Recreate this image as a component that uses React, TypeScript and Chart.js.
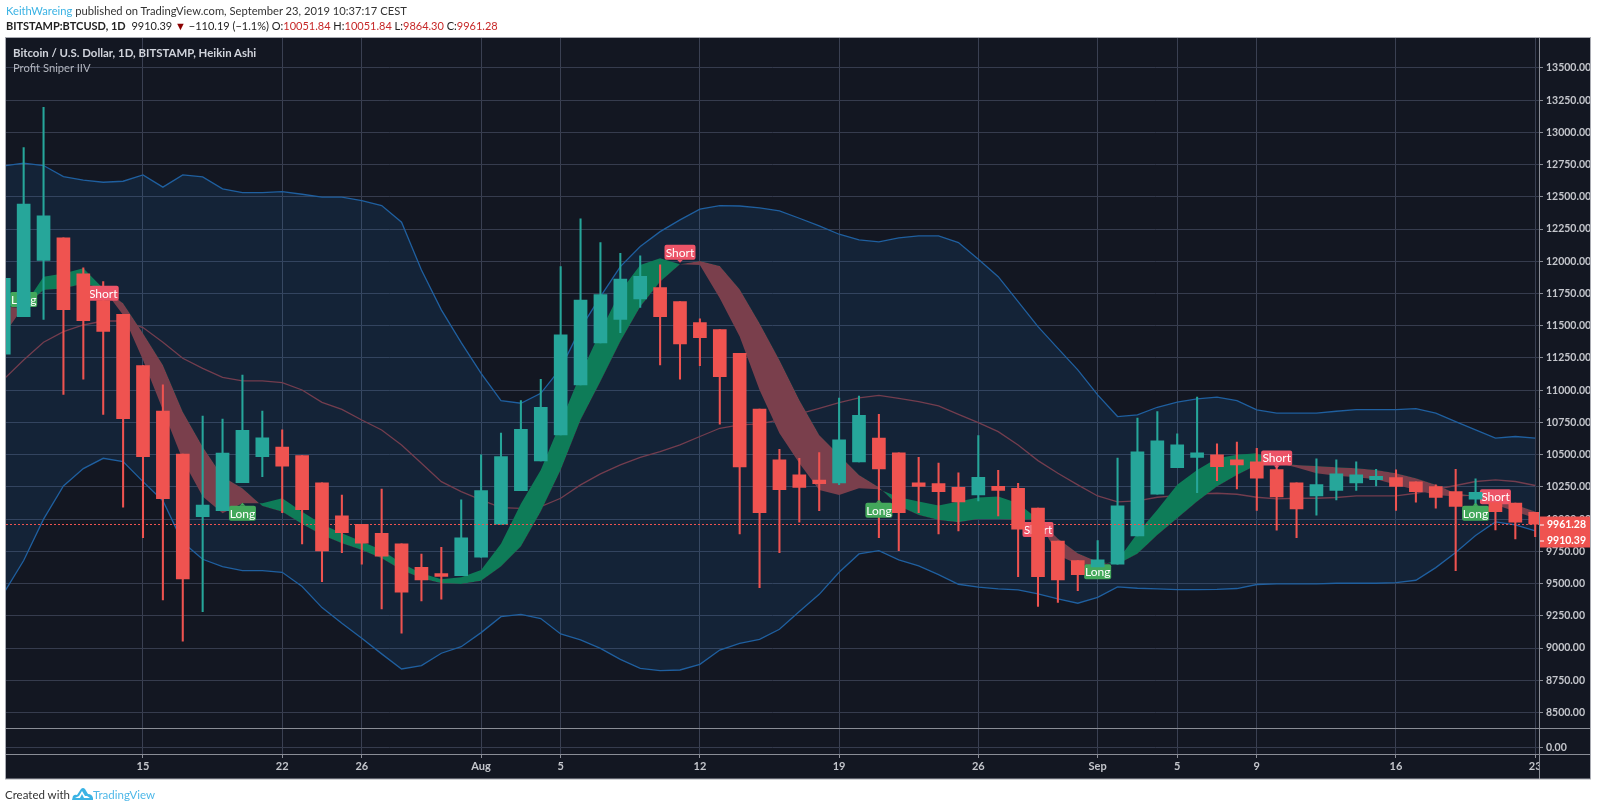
import React, { useEffect, useRef } from "react";
import { Chart, registerables } from "chart.js";

Chart.register(...registerables);

const opens = [11279,11571,12006,12182,11902,11695,11589,11191,10839,10505,10019,10066,10283,10485,10560,10493,10281,10025,9960,9890,9808,9627,9578,9562,9705,9962,10221,10451,10653,11041,11367,11550,11708,11796,11687,11524,11470,11286,10853,10460,10343,10304,10281,10444,10628,10514,10281,10276,10247,10188,10255,10240,10085,9829,9679,9630,9650,9870,10193,10400,10478,10499,10460,10444,10385,10281,10181,10222,10281,10307,10323,10289,10253,10214,10155,10129,10124,10052];
const closes = [11868,12443,12352,11625,11540,11457,10780,10485,10159,9536,10110,10513,10689,10630,10410,10074,9754,9895,9813,9712,9433,9529,9555,9856,10221,10485,10697,10867,11429,11700,11742,11863,11884,11571,11359,11408,11105,10405,10051,10229,10247,10276,10615,10806,10390,10051,10253,10214,10134,10325,10222,9922,9554,9529,9570,9684,10103,10522,10607,10576,10514,10408,10421,10318,10173,10080,10268,10351,10343,10333,10253,10214,10168,10098,10209,10059,9976,9961];
const highs = [11900,12882,13195,12182,11950,11842,11589,11191,11041,10505,10800,10777,11118,10839,10692,10493,10281,10187,9960,10234,9808,9730,9782,10149,10498,10668,10919,11085,11959,12329,12145,12062,12042,11972,11687,11553,11470,11286,10853,10542,10472,10516,10940,10955,10814,10514,10480,10434,10359,10648,10379,10278,10085,9829,9679,9834,10473,10783,10835,10661,10946,10584,10597,10550,10420,10281,10468,10460,10444,10387,10382,10289,10266,10387,10312,10162,10124,10052];
const lows = [11279,11571,11550,10968,11085,10813,10092,9856,9373,9053,9283,10066,10283,10330,10050,9808,9516,9741,9650,9304,9115,9366,9379,9562,9705,9962,10221,10451,10653,11041,11367,11447,11643,11196,11085,11191,10736,9885,9469,9741,9976,10066,10268,10444,9857,9756,10051,9885,9909,10141,10025,9554,9324,9355,9446,9610,9650,9870,10193,10400,10206,10299,10235,10067,9914,9857,10031,10149,10222,10258,10067,10131,10085,9601,10070,9917,9847,9864];

const upperBand = [12740,12761,12743,12657,12629,12613,12621,12670,12575,12670,12655,12562,12533,12533,12541,12520,12497,12497,12471,12432,12303,11933,11623,11369,11131,10919,10899,10976,11170,11480,11726,11959,12114,12230,12321,12404,12432,12429,12414,12391,12334,12274,12210,12166,12150,12181,12197,12197,12145,12016,11881,11687,11493,11325,11158,10964,10796,10809,10868,10907,10933,10946,10920,10848,10822,10822,10822,10837,10850,10850,10850,10858,10822,10757,10692,10628,10641,10628];
const lowerBand = [9425,9679,10000,10257,10392,10472,10446,10291,10143,9820,9689,9632,9601,9601,9588,9477,9314,9192,9076,8955,8838,8864,8960,9011,9120,9244,9262,9229,9110,9063,8998,8913,8843,8825,8830,8874,8985,9037,9068,9146,9283,9417,9588,9730,9756,9684,9637,9570,9495,9472,9459,9451,9420,9381,9348,9394,9475,9464,9459,9454,9454,9456,9462,9493,9498,9498,9498,9503,9503,9503,9508,9526,9624,9741,9873,9979,9956,9909];
const middleBand = [11085,11235,11372,11455,11506,11537,11537,11486,11372,11248,11170,11100,11072,11072,11059,11002,10906,10852,10769,10692,10575,10433,10291,10213,10149,10089,10084,10097,10162,10266,10351,10421,10480,10524,10576,10641,10705,10731,10739,10770,10816,10860,10904,10941,10960,10937,10912,10878,10813,10749,10679,10575,10454,10356,10266,10180,10134,10142,10170,10183,10196,10201,10193,10170,10157,10162,10162,10168,10180,10180,10180,10201,10232,10261,10292,10305,10292,10261];

const fastLine = [11429,11650,11881,11905,11946,11790,11584,11235,10847,10459,10175,10045,10123,10123,10162,10058,9960,9890,9826,9761,9658,9580,9534,9549,9606,9810,10120,10381,10751,11126,11455,11765,11972,12023,11977,11972,11713,11416,11002,10666,10434,10227,10188,10240,10232,10170,10136,10105,10136,10167,10175,10123,10000,9720,9650,9640,9680,9891,10072,10266,10382,10473,10499,10512,10440,10400,10356,10336,10325,10310,10266,10227,10188,10175,10182,10111,10059,10007];
const slowLine = [11648,11640,11778,11790,11825,11790,11674,11442,11196,10834,10562,10330,10239,10102,10058,9962,9877,9813,9761,9697,9606,9542,9503,9498,9523,9632,9787,10059,10382,10769,11067,11377,11648,11842,11977,12003,11964,11783,11519,11235,10924,10653,10498,10343,10247,10103,10033,9994,9976,10002,10002,9994,10000,9850,9736,9670,9650,9731,9878,10007,10137,10253,10343,10421,10440,10421,10413,10403,10395,10382,10356,10318,10266,10201,10180,10129,10111,10059];

const priceTicks = [8500,8750,9000,9250,9500,9750,10000,10250,10500,10750,11000,11250,11500,11750,12000,12250,12500,12750,13000,13250,13500];
const timeTickIndex = [7,14,18,24,28,35,42,49,55,59,63,70,77];
const timeTickLabels = ["15","22","26","Aug","5","12","19","26","Sep","5","9","16","23"];

const flagIndex = [1,5,12,34,44,52,55,64,74,75];
const flagValue = [11703,11752,10045,12070,10069,9919,9593,10475,10046,10173];
const flagText = ["Long","Short","Long","Short","Long","Short","Long","Short","Long","Short"];

const lastClose = 9961.28;
const lastPrice = 9910.39;

const FONT = 'Lato, "Open Sans", sans-serif';
const UP = "#26a69a";
const DOWN = "#ef5350";

const toXY = (a: number[]) => a.map((y, x) => ({ x, y }));
const toRange = (a: number[], b: number[]) => a.map((v, x) => ({ x, y: [v, b[x]] }));
const barColors = opens.map((o, i) => (closes[i] >= o ? UP : DOWN));

const WICK_DATASET = 5;

function drawFlags(chart: any) {
  const { ctx, scales } = chart;
  ctx.save();
  ctx.font = `12px ${FONT}`;
  ctx.textAlign = "center";
  ctx.textBaseline = "middle";
  flagText.forEach((t, k) => {
    const cx = scales.x.getPixelForValue(flagIndex[k]);
    const cy = scales.y.getPixelForValue(flagValue[k]);
    const short = t === "Short";
    const w = short ? 31 : 27;
    const h = 15;
    ctx.fillStyle = short ? "#ec5468" : "#43a85b";
    ctx.beginPath();
    ctx.roundRect(cx - w / 2, cy - h / 2, w, h, 2);
    ctx.fill();
    ctx.beginPath();
    const s = short ? 1 : -1;
    ctx.moveTo(cx - 3, cy + s * (h / 2));
    ctx.lineTo(cx + 3, cy + s * (h / 2));
    ctx.lineTo(cx, cy + s * (h / 2 + 3));
    ctx.fill();
    ctx.fillStyle = "#ffffff";
    ctx.fillText(t, cx, cy + 0.5);
  });
  ctx.restore();
}

const framePlugin = {
  id: "frame",
  beforeDraw(chart: any) {
    const { ctx, chartArea: a } = chart;
    ctx.save();
    ctx.fillStyle = "#131722";
    ctx.fillRect(a.left - 1, a.top - 1, 1590 - a.left + 1, 779 - a.top + 1);
    ctx.restore();
  },
  afterDatasetDraw(chart: any, args: any) {
    if (args.index === WICK_DATASET) drawFlags(chart);
  },
  afterDatasetsDraw(chart: any) {
    const { ctx, chartArea: a, scales } = chart;
    ctx.save();
    const yClose = Math.round(scales.y.getPixelForValue(lastClose)) + 0.5;
    ctx.strokeStyle = DOWN;
    ctx.lineWidth = 1;
    ctx.setLineDash([2, 2]);
    ctx.beginPath();
    ctx.moveTo(a.left, yClose);
    ctx.lineTo(a.right, yClose);
    ctx.stroke();
    ctx.setLineDash([]);

    // covers the part of the last time label that falls under the price axis
    ctx.fillStyle = "#131722";
    ctx.fillRect(a.right, a.bottom + 1, 1590 - a.right, 779 - a.bottom - 1);

    ctx.strokeStyle = "#8a8d96";
    ctx.beginPath();
    ctx.moveTo(a.right + 0.5, a.top);
    ctx.lineTo(a.right + 0.5, 779);
    const paneBreak = Math.round(scales.y.bottom) + 0.5;
    const axisLine = Math.round(a.bottom) + 0.5;
    ctx.moveTo(a.left, paneBreak);
    ctx.lineTo(1590, paneBreak);
    ctx.moveTo(a.left, axisLine);
    ctx.lineTo(1590, axisLine);
    ctx.stroke();

    ctx.strokeStyle = "#a9abb2";
    ctx.strokeRect(5.5, 37.5, 1585, 741.5);

    const tagLeft = a.right + 1;
    const tagW = 1590 - tagLeft;
    ctx.fillStyle = DOWN;
    ctx.fillRect(tagLeft, yClose - 8, tagW, 31);
    ctx.fillStyle = "#ffffff";
    ctx.font = `700 10.5px ${FONT}`;
    ctx.textBaseline = "middle";
    ctx.textAlign = "left";
    ctx.fillRect(tagLeft, yClose, 4, 1);
    ctx.fillRect(tagLeft, yClose + 16, 4, 1);
    ctx.fillText(lastClose.toFixed(2), tagLeft + 7, yClose + 0.5);
    ctx.fillText(lastPrice.toFixed(2), tagLeft + 7, yClose + 16.5);
    ctx.restore();
  },
};

export default function App() {
  const ref = useRef<HTMLCanvasElement>(null);
  useEffect(() => {
    if (!ref.current) return;
    const fixedTicks = (vals: number[]) => (s: any) => {
      s.ticks = vals.map((value) => ({ value }));
    };
    const GRID = "#363c4e";
    const chart = new Chart(ref.current, {
      type: "line",
      data: {
        datasets: [
          {
            type: "line", data: toXY(upperBand), borderColor: "#1f5f9f", borderWidth: 1.3, pointRadius: 0,
            fill: { target: "+1", above: "rgba(33,150,243,0.1)", below: "rgba(33,150,243,0.1)" }, order: 7, yAxisID: "y",
          },
          { type: "line", data: toXY(lowerBand), borderColor: "#1f5f9f", borderWidth: 1.3, pointRadius: 0, fill: false, order: 6, yAxisID: "y" },
          { type: "line", data: toXY(middleBand), borderColor: "#733d4e", borderWidth: 1.3, pointRadius: 0, fill: false, order: 5, yAxisID: "y" },
          {
            type: "line", data: toXY(fastLine), borderWidth: 0, borderColor: "rgba(0,0,0,0)", pointRadius: 0,
            fill: { target: "+1", above: "#0e7c58", below: "#7a3f4c" }, order: 4, yAxisID: "y",
          },
          { type: "line", data: toXY(slowLine), borderWidth: 0, borderColor: "rgba(0,0,0,0)", pointRadius: 0, fill: false, order: 3, yAxisID: "y" },
          {
            type: "bar", data: toRange(lows, highs) as any, backgroundColor: barColors, barThickness: 1.4, grouped: false, order: 2, yAxisID: "y",
          },
          {
            type: "bar", data: toRange(opens, closes) as any, backgroundColor: barColors, barThickness: 13, grouped: false, order: 1, yAxisID: "y",
          },
        ] as any,
      },
      options: {
        responsive: false,
        animation: false,
        events: [],
        layout: { padding: { left: 6, top: 38, right: 10, bottom: 32 } },
        elements: { line: { tension: 0 } },
        plugins: { legend: { display: false }, tooltip: { enabled: false }, title: { display: false } },
        scales: {
          x: {
            type: "linear",
            offset: false,
            min: 0.112,
            max: 77.19,
            afterBuildTicks: fixedTicks(timeTickIndex),
            afterFit: (s: any) => { s.height = 25; },
            grid: { color: "#3a4052", tickColor: "#8a8d96", tickLength: 4, drawTicks: true, offset: false },
            border: { display: false },
            ticks: {
              color: "#c4c6cc", padding: 2, autoSkip: false, maxRotation: 0, includeBounds: false,
              font: { family: FONT, size: 11, weight: 700 },
              callback: (v: any) => timeTickLabels[timeTickIndex.indexOf(Number(v))] ?? "",
            },
          },
          y: {
            type: "linear",
            position: "right",
            stack: "panes",
            stackWeight: 689.5,
            min: 8384,
            max: 13732,
            afterBuildTicks: fixedTicks(priceTicks),
            afterFit: (s: any) => { s.width = 51; },
            grid: { color: GRID, tickColor: "#8a8d96", tickLength: 4 },
            border: { display: false },
            ticks: {
              color: "#c4c6cc", padding: 3, autoSkip: false, includeBounds: false,
              font: { family: FONT, size: 10.5, weight: 700 },
              callback: (v: any) => Number(v).toFixed(2),
            },
          },
          y2: {
            type: "linear",
            position: "right",
            stack: "panes",
            stackWeight: 26.5,
            min: -0.25,
            max: 0.75,
            afterBuildTicks: fixedTicks([0]),
            afterFit: (s: any) => { s.width = 51; },
            grid: { color: GRID, tickColor: "#8a8d96", tickLength: 4 },
            border: { display: false },
            ticks: {
              color: "#c4c6cc", padding: 3, autoSkip: false, includeBounds: false,
              font: { family: FONT, size: 10.5, weight: 700 },
              callback: (v: any) => Number(v).toFixed(2),
            },
          },
        },
      } as any,
      plugins: [framePlugin as any],
    });
    return () => chart.destroy();
  }, []);

  const red = { color: "#c62828" };
  return (
    <div style={{ position: "absolute", left: 0, top: 0, width: 1600, height: 811, background: "#ffffff", fontFamily: FONT, overflow: "hidden" }}>
      <canvas ref={ref} width={1600} height={811} style={{ position: "absolute", left: 0, top: 0, width: 1600, height: 811 }} />
      <div style={{ position: "absolute", left: 6, top: 3, fontSize: 11.2, lineHeight: "16px", color: "#333", whiteSpace: "nowrap" }}>
        <span style={{ color: "#3bb3e4" }}>KeithWareing</span> published on TradingView.com, September 23, 2019 10:37:17 CEST
      </div>
      <div style={{ position: "absolute", left: 6, top: 18, fontSize: 11, lineHeight: "16px", color: "#222", whiteSpace: "pre" }}>
        <span style={{ fontWeight: 700 }}>BITSTAMP:BTCUSD, 1D</span>{"  "}9910.39 <span style={{ color: "#8b0000" }}>▼</span> −110.19 (−1.1%) O:<span style={red}>10051.84</span> H:<span style={red}>10051.84</span> L:<span style={red}>9864.30</span> C:<span style={red}>9961.28</span>
      </div>
      <div style={{ position: "absolute", left: 13, top: 45, fontSize: 11.4, lineHeight: "16px", fontWeight: 700, color: "#d1d4dc", whiteSpace: "nowrap" }}>
        Bitcoin / U.S. Dollar, 1D, BITSTAMP, Heikin Ashi
      </div>
      <div style={{ position: "absolute", left: 13, top: 60, fontSize: 11.2, lineHeight: "16px", color: "#b2b5be", whiteSpace: "nowrap" }}>
        Profit Sniper IIV
      </div>
      <div style={{ position: "absolute", left: 5, top: 787, fontSize: 11.5, lineHeight: "16px", color: "#333", whiteSpace: "nowrap" }}>
        Created with
      </div>
      <svg style={{ position: "absolute", left: 72, top: 787 }} width={21} height={14} viewBox="0 0 21 14">
        <path d="M0 13 L1 9 Q3 7 5 8 L9 2 Q11 0 13 2 L16 7 Q20 7 21 11 L21 13 Z M3 11 L8 11 L10 7 L12 11 L18 11 L15 9 L13 9 L10 4 L7 9 L5 10 Z" fill="#3bb3e4" fillRule="evenodd" />
      </svg>
      <div style={{ position: "absolute", left: 93, top: 787, fontSize: 11.5, lineHeight: "16px", color: "#4fb8e8", whiteSpace: "nowrap" }}>
        TradingView
      </div>
    </div>
  );
}
